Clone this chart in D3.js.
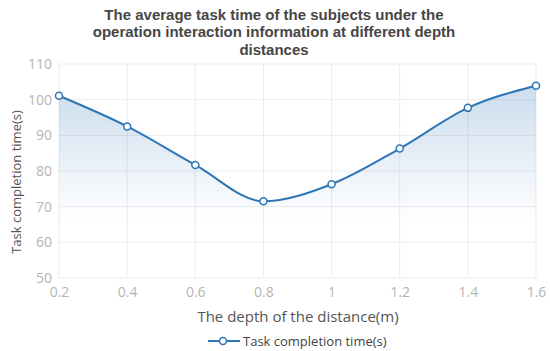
<!DOCTYPE html>
<html>
<head>
<meta charset="utf-8">
<script src="https://cdn.jsdelivr.net/npm/d3@7"></script>
<style>
  body { margin: 0; background: #fff; }
  svg { font-family: "Open Sans", "Noto Sans", sans-serif; }
</style>
</head>
<body>
<svg width="550" height="351"></svg>
<script>
// data
var depths = [0.2, 0.4, 0.6, 0.8, 1.0, 1.2, 1.4, 1.6];
var taskTimes = [101.1, 92.5, 81.7, 71.5, 76.3, 86.3, 97.7, 103.9];
var yTicks = [50, 60, 70, 80, 90, 100, 110];
var titleLines = ["The average task time of the subjects under the",
                  "operation interaction information at different depth",
                  "distances"];

var lineColor = "#2e75b6";

var svg = d3.select("svg");

// plot area
var plotLeft = 59, plotRight = 536, plotTop = 64, plotBottom = 278;

var xScale = d3.scaleLinear().domain([0.2, 1.6]).range([plotLeft, plotRight]);
var yScale = d3.scaleLinear().domain([50, 110]).range([plotBottom, plotTop]);

var data = depths.map(function (d, i) { return { x: d, y: taskTimes[i] }; });

// gradient for the area under the line
var defs = svg.append("defs");
var grad = defs.append("linearGradient")
    .attr("id", "areaGrad")
    .attr("gradientUnits", "userSpaceOnUse")
    .attr("x1", 0).attr("x2", 0)
    .attr("y1", yScale(104)).attr("y2", yScale(66));
grad.append("stop").attr("offset", "0%").attr("stop-color", lineColor).attr("stop-opacity", 0.25);
grad.append("stop").attr("offset", "100%").attr("stop-color", lineColor).attr("stop-opacity", 0);

// grid lines
var grid = svg.append("g");
grid.selectAll(".hgrid")
    .data(yTicks)
    .enter().append("line")
    .attr("x1", plotLeft).attr("x2", plotRight)
    .attr("y1", function (d) { return yScale(d); })
    .attr("y2", function (d) { return yScale(d); })
    .attr("stroke", "#ececec");
grid.selectAll(".vgrid")
    .data(depths)
    .enter().append("line")
    .attr("x1", function (d) { return xScale(d); })
    .attr("x2", function (d) { return xScale(d); })
    .attr("y1", plotTop).attr("y2", plotBottom)
    .attr("stroke", "#ececec");

// y axis
var yAxis = d3.axisLeft(yScale).tickValues(yTicks).tickSize(0).tickPadding(7);
var yg = svg.append("g")
    .attr("transform", "translate(" + plotLeft + ",0)")
    .call(yAxis);
yg.select(".domain").remove();
yg.selectAll("text").attr("fill", "#b5b5b5").attr("font-size", "14px")
    .attr("font-family", "\"Open Sans\", sans-serif");

// x axis
var xAxis = d3.axisBottom(xScale).tickValues(depths).tickSize(0).tickPadding(9)
    .tickFormat(function (d) { return String(+d.toFixed(1)); });
var xg = svg.append("g")
    .attr("transform", "translate(0," + plotBottom + ")")
    .call(xAxis);
xg.select(".domain").remove();
xg.selectAll("text").attr("fill", "#b5b5b5").attr("font-size", "14px")
    .attr("font-family", "\"Open Sans\", sans-serif");

// area and line
var curve = d3.curveMonotoneX;
var area = d3.area()
    .x(function (d) { return xScale(d.x); })
    .y0(plotBottom)
    .y1(function (d) { return yScale(d.y); })
    .curve(curve);
var line = d3.line()
    .x(function (d) { return xScale(d.x); })
    .y(function (d) { return yScale(d.y); })
    .curve(curve);

svg.append("path").datum(data).attr("d", area).attr("fill", "url(#areaGrad)");
svg.append("path").datum(data).attr("d", line)
    .attr("fill", "none").attr("stroke", lineColor).attr("stroke-width", 2);

svg.selectAll(".dot")
    .data(data)
    .enter().append("circle")
    .attr("cx", function (d) { return xScale(d.x); })
    .attr("cy", function (d) { return yScale(d.y); })
    .attr("r", 3.5)
    .attr("fill", "#fff")
    .attr("stroke", lineColor)
    .attr("stroke-width", 1.5);

// title (tighter font metrics so the three lines sit close like the original)
svg.append("g").selectAll("text")
    .data(titleLines)
    .enter().append("text")
    .attr("text-anchor", "middle")
    .attr("font-family", "\"Liberation Sans\", Arial, sans-serif")
    .attr("font-size", "15px")
    .attr("font-weight", "bold")
    .attr("fill", "#464646")
    .attr("x", 274)
    .attr("y", function (d, i) { return 20 + i * 17.4; })
    .text(function (d) { return d; });

// axis titles
svg.append("text")
    .attr("transform", "translate(21,182) rotate(-90)")
    .attr("text-anchor", "middle")
    .attr("font-size", "13px")
    .attr("fill", "#555")
    .text("Task completion time(s)");

svg.append("text")
    .attr("x", 298)
    .attr("y", 322)
    .attr("text-anchor", "middle")
    .attr("font-size", "15px")
    .attr("fill", "#555")
    .text("The depth of the distance(m)");

// legend
var legend = svg.append("g").attr("transform", "translate(208,341)");
legend.append("line").attr("x1", 0).attr("x2", 32).attr("y1", 0).attr("y2", 0)
    .attr("stroke", lineColor).attr("stroke-width", 2);
legend.append("circle").attr("cx", 15).attr("cy", 0).attr("r", 3.5)
    .attr("fill", "#fff").attr("stroke", lineColor).attr("stroke-width", 1.5);
legend.append("text").attr("x", 35).attr("y", 5)
    .attr("font-size", "13px").attr("fill", "#444")
    .text("Task completion time(s)");
</script>
</body>
</html>
